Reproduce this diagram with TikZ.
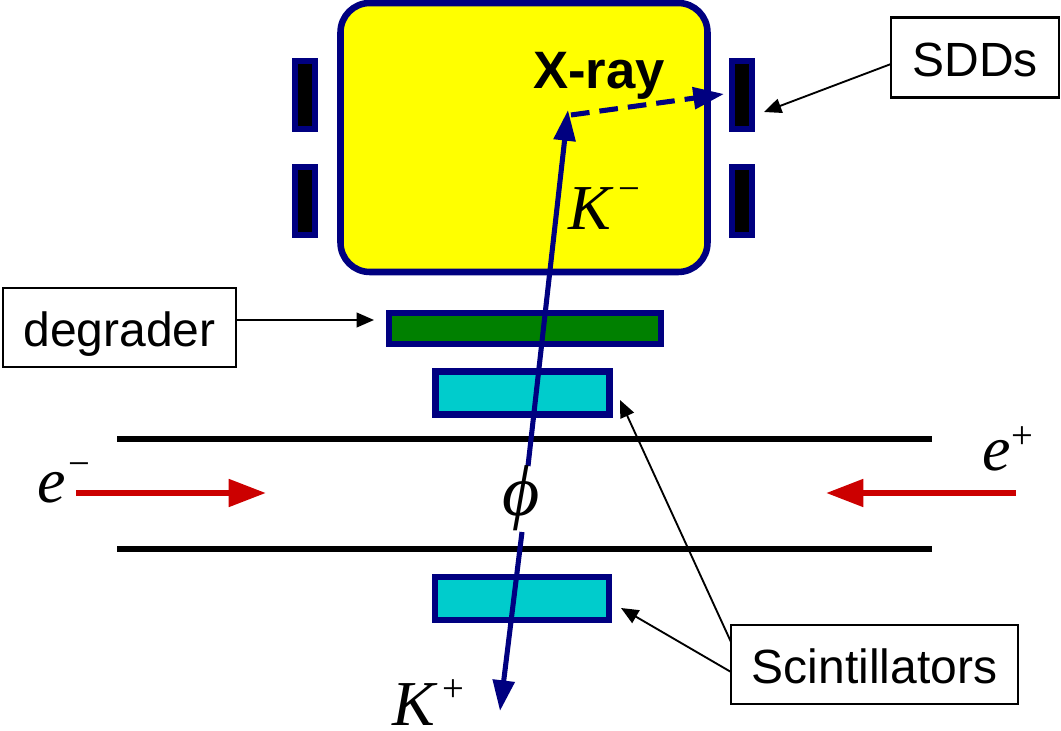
\documentclass[tikz,border=0pt]{standalone}
\usepackage{fontspec}
\usetikzlibrary{arrows.meta}
\setmainfont{Liberation Sans}
\newfontfamily\serifit[ItalicFont=Liberation Serif Italic]{Liberation Serif}
\definecolor{nv}{HTML}{000080}
\definecolor{yl}{HTML}{FFFF00}
\definecolor{gr}{HTML}{008000}
\definecolor{cy}{HTML}{00CCCC}
\definecolor{rd}{HTML}{CC0000}
\newcommand{\symsup}[3]{{\serifit\itshape\fontsize{48}{54}\selectfont #1}\kern#3\raisebox{#2}{\serifit\fontsize{29}{34}\selectfont −}}
\newcommand{\symplus}[3]{{\serifit\itshape\fontsize{48}{54}\selectfont #1}\kern#3\raisebox{#2}{\serifit\fontsize{29}{34}\selectfont +}}
\tikzset{
  pxbox/.style 2 args={minimum width=#1*0.75pt,minimum height=#2*0.75pt,inner sep=0pt,outer sep=0pt,line width=4.6pt,draw=nv},
  chamber/.style={fill=yl,rounded corners=22pt},
  sdd/.style={pxbox={20}{68},fill=black},
  degr/.style={pxbox={272}{31},fill=gr},
  scint/.style={pxbox={174}{43},fill=cy},
  label/.style={draw=black,fill=white,line width=1.6pt,inner sep=0pt,outer sep=0pt,text height=27.8pt,text depth=0pt,font=\fontsize{36}{42}\selectfont},
  sym/.style={inner sep=0pt,outer sep=0pt,anchor=base west},
  pipe/.style={line width=4.8pt,black},
  beam/.style={line width=4.5pt,rd,-{Triangle[length=28pt,width=20pt]}},
  track/.style={line width=3.8pt,nv},
  trackhead/.style={track,-{Triangle[length=23pt,width=16pt]}},
  thin/.style={line width=1.4pt,black,-{Triangle[length=13pt,width=11pt]}}
}
\begin{document}
\begin{tikzpicture}[x=0.75pt,y=-0.75pt]
\useasboundingbox (0,0) rectangle (1061,731);
% chamber
\node[pxbox={367}{269},chamber,line width=4.9pt] (chamber) at (524,137.5) {};
% SDDs
\node[sdd] (sddTL) at (305,95) {};
\node[sdd] (sddBL) at (305,201) {};
\node[sdd] (sddTR) at (742,95) {};
\node[sdd] (sddBR) at (742,201) {};
% degrader and scintillators
\node[degr] (degrader) at (525,328.5) {};
\node[scint] (scintT) at (522.5,393) {};
\node[scint] (scintB) at (522,598.5) {};
% beam pipe
\coordinate (pipeTL) at (117,439);
\coordinate (pipeTR) at (932,439);
\coordinate (pipeBL) at (117,549);
\coordinate (pipeBR) at (932,549);
\draw[pipe] (pipeTL) -- (pipeTR);
\draw[pipe] (pipeBL) -- (pipeBR);
% beams
\coordinate (beamLa) at (76,493);
\coordinate (beamLb) at (266,493);
\coordinate (beamRa) at (1016,493);
\coordinate (beamRb) at (826,493);
\draw[beam] (beamLa) -- (beamLb);
\draw[beam] (beamRa) -- (beamRb);
% tracks
\coordinate (upStart) at (528,466);
\coordinate (decay) at (568,110);
\coordinate (downStart) at (522,532);
\coordinate (downEnd) at (500,711);
\coordinate (xStart) at (571,115);
\coordinate (xEnd) at (724,94);
\draw[trackhead] (upStart) -- (decay);
\draw[trackhead] (downStart) -- (downEnd);
\draw[trackhead,dash pattern=on 14pt off 7.5pt] (xStart) -- (xEnd);
% texts
\node[inner sep=0pt,font=\bfseries\fontsize{39.5}{46}\selectfont] (xray) at (599,76) {X-ray};
\node[sym] (kminus) at (568,230) {\symsup{K}{21pt}{6pt}};
\node[sym] (kplus) at (392,725) {\symplus{K}{18pt}{6pt}};
\node[sym] (eminus) at (37,502) {\symsup{e}{19.5pt}{2pt}};
\node[sym] (eplus) at (982,470) {\symplus{e}{16pt}{1pt}};
\node[inner sep=0pt] (phi) at (521,498) {\serifit\itshape\fontsize{54}{60}\selectfont ϕ};
% labels
\node[label,minimum width=126pt,minimum height=60pt] (sdds) at (975,57.5) {SDDs};
\node[label,minimum width=175pt,minimum height=59pt] (degl) at (119.5,327.5) {degrader};
\node[label,minimum width=215pt,minimum height=59pt] (scl) at (874.5,664.5) {Scintillators};
% callouts
\coordinate (sddTip) at (764,112);
\coordinate (degTip) at (374,320);
\coordinate (scTipT) at (620,400);
\coordinate (scTipB) at (621,608);
\coordinate (scFromT) at (731,642);
\coordinate (scFromB) at (731,672);
\coordinate (sddFrom) at (891,64);
\coordinate (degFrom) at (236,320);
\draw[thin] (sddFrom) -- (sddTip);
\draw[thin] (degFrom) -- (degTip);
\draw[thin] (scFromT) -- (scTipT);
\draw[thin] (scFromB) -- (scTipB);
\end{tikzpicture}
\end{document}
